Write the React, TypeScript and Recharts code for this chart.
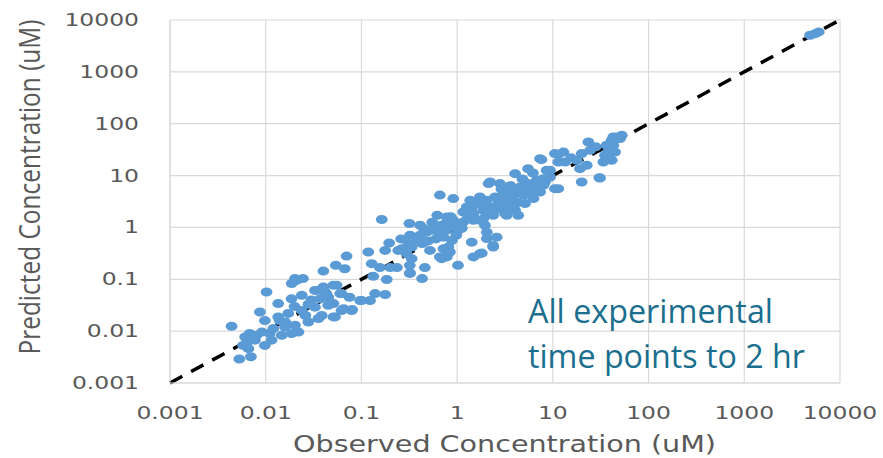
import {
  ScatterChart,
  Scatter,
  XAxis,
  YAxis,
  CartesianGrid,
  ReferenceLine,
} from "recharts";

const obsBelow01: [number, number][] = [
  [0.0044, 0.0124], [0.0053, 0.0029], [0.007, 0.0032], [0.0102, 0.057], [0.0202, 0.103],
  [0.0245, 0.103], [0.0187, 0.083], [0.04, 0.144], [0.054, 0.186], [0.067, 0.16],
  [0.055, 0.077], [0.1, 0.039], [0.0087, 0.0234], [0.0135, 0.034], [0.0186, 0.042],
  [0.0238, 0.049], [0.0327, 0.061], [0.0417, 0.057], [0.062, 0.053], [0.0098, 0.016],
  [0.0135, 0.0188], [0.0172, 0.022], [0.0238, 0.025], [0.0327, 0.029], [0.045, 0.0315],
  [0.062, 0.025], [0.079, 0.025], [0.0091, 0.0096], [0.012, 0.0112], [0.0159, 0.012],
  [0.0202, 0.013], [0.0279, 0.015], [0.0355, 0.0175], [0.053, 0.0188], [0.0147, 0.0083],
  [0.0186, 0.009], [0.022, 0.0096], [0.0061, 0.0077], [0.0071, 0.0083], [0.0058, 0.0053],
  [0.0066, 0.0046], [0.0098, 0.0053], [0.0115, 0.0067], [0.0077, 0.0067], [0.014, 0.016],
  [0.0385, 0.02], [0.051, 0.034], [0.0063, 0.0058], [0.0068, 0.009], [0.008, 0.0083],
  [0.07, 0.28], [0.04, 0.071], [0.051, 0.077], [0.08, 0.026], [0.097, 0.039],
  [0.065, 0.027], [0.034, 0.061], [0.037, 0.042], [0.043, 0.053], [0.06, 0.053],
  [0.021, 0.095], [0.051, 0.0188], [0.011, 0.009], [0.016, 0.015], [0.026, 0.02],
  [0.03, 0.04], [0.045, 0.045], [0.028, 0.033], [0.02, 0.03], [0.075, 0.045],
];

const obs01to1: [number, number][] = [
  [0.163, 1.42], [0.317, 1.19], [0.66, 4.2], [0.91, 3.6], [0.118, 0.336],
  [0.177, 0.36], [0.195, 0.5], [0.128, 0.2], [0.156, 0.168], [0.2, 0.168],
  [0.235, 0.168], [0.133, 0.114], [0.184, 0.099], [0.322, 0.132], [0.43, 0.103],
  [0.46, 0.168], [0.263, 0.39], [0.322, 0.705], [0.31, 0.49], [0.38, 0.56],
  [0.335, 0.25], [0.41, 0.705], [0.48, 0.81], [0.565, 0.88], [0.52, 0.36],
  [0.66, 0.27], [0.72, 0.39], [0.84, 0.336], [0.69, 1.1], [0.78, 1.27],
  [0.91, 1.37], [0.98, 0.705], [0.123, 0.039], [0.139, 0.053], [0.177, 0.051],
  [0.32, 0.186], [0.32, 0.13], [0.335, 0.42], [0.43, 0.49], [0.297, 0.31],
  [0.243, 0.36], [0.72, 0.65], [0.81, 0.42], [0.78, 1.59], [0.84, 1.02],
  [0.69, 0.25], [0.78, 0.27], [0.41, 1.1], [0.55, 1.26], [0.77, 0.88],
  [0.88, 0.56], [0.62, 1.71], [0.6, 0.6], [0.5, 0.55], [0.95, 1.2],
  [0.26, 0.6], [0.45, 0.95], [0.58, 1.05], [0.66, 0.8], [0.86, 1.6],
];

const obs1to10: [number, number][] = [
  [1.02, 0.88], [1.02, 0.186], [1.42, 0.52], [1.81, 0.32], [1.48, 0.27],
  [1.26, 2.48], [1.48, 1.85], [1.88, 2.67], [1.73, 1.37], [2.04, 1.85],
  [1.37, 3.33], [1.73, 3.86], [2.13, 7.0], [2.04, 0.81], [1.07, 0.95],
  [1.12, 0.96], [2.21, 7.5], [2.8, 7.0], [4.03, 10.9], [5.5, 13.6],
  [7.35, 21.2], [9.35, 12.6], [1.16, 1.98], [1.42, 2.31], [2.04, 3.33],
  [2.49, 3.86], [3.04, 4.49], [3.72, 5.2], [4.54, 6.0], [5.5, 7.0],
  [6.78, 8.1], [7.96, 8.7], [9.35, 9.4], [1.16, 1.27], [1.48, 1.37],
  [1.88, 1.48], [2.38, 1.71], [3.16, 1.85], [4.03, 2.14], [5.13, 2.88],
  [6.27, 3.6], [7.35, 4.82], [1.88, 2.14], [2.38, 2.48], [3.04, 2.88],
  [3.86, 3.33], [4.92, 4.16], [6.0, 5.2], [7.35, 6.5], [3.29, 1.71],
  [4.35, 1.71], [2.04, 0.61], [2.59, 0.65], [2.38, 0.42], [1.73, 0.31],
  [2.38, 0.45], [7.6, 20.3], [8.6, 12.6], [7.96, 6.5], [1.3, 1.6],
  [2.2, 2.0], [2.7, 2.3], [3.4, 2.6], [4.3, 3.0], [5.8, 4.2],
  [2.7, 3.3], [3.4, 3.7], [4.2, 4.6], [5.2, 5.6], [6.5, 6.8], [8.3, 7.6],
  [1.6, 2.9], [2.9, 5.5], [4.8, 8.6], [6.2, 11.2], [3.6, 6.4], [1.95, 1.1],
];

const obsAbove10: [number, number][] = [
  [11.4, 25.7], [10.5, 5.6], [46.5, 55.4], [52.5, 59.7], [41.2, 47.9],
  [36.5, 38.4], [39.6, 30.7], [44.7, 28.4], [35.1, 24.6], [33.7, 18.3],
  [41.2, 19.7], [36.5, 26.5], [23.5, 44.4], [24.5, 30.7], [20, 26.5],
  [22.6, 15.8], [19.2, 13.6], [17.8, 19.7], [12.9, 28.4], [10.5, 26.5],
  [13.4, 18.3], [11.4, 18.3], [20, 7.5], [30.6, 9.1], [11.4, 5.6],
  [42.8, 38.4], [42.8, 55.4], [50.4, 51.6], [38, 35.6], [31.1, 9.0],
  [15.5, 22], [28, 36], [4870, 5070], [5500, 5460], [6000, 5900],
];

const decadeTicks = [0.001, 0.01, 0.1, 1, 10, 100, 1000, 10000];

const points = [...obsBelow01, ...obs01to1, ...obs1to10, ...obsAbove10].map(([x, y]) => ({ x, y }));

const TICK_COLOR = "#595959";

function XTick(props: any) {
  const { x, y, payload } = props;
  return (
    <text
      transform={`translate(${x},${y + 36}) scale(1.38,1)`}
      textAnchor="middle"
      fontFamily="DejaVu Sans"
      fontSize={17}
      fill={TICK_COLOR}
    >
      {String(payload.value)}
    </text>
  );
}

function YTick(props: any) {
  const { x, y, payload } = props;
  return (
    <text
      transform={`translate(${x - 31},${y + 6}) scale(1.38,1)`}
      textAnchor="end"
      fontFamily="DejaVu Sans"
      fontSize={17}
      fill={TICK_COLOR}
    >
      {String(payload.value)}
    </text>
  );
}

// Excel-ish oval markers
function Dot(props: any) {
  const { cx, cy } = props;
  if (cx == null || cy == null) return null;
  return <ellipse cx={cx} cy={cy} rx={5.9} ry={4.5} fill="#5B9BD5" />;
}

export default function App() {
  return (
    <div style={{ position: "relative", width: 883, height: 458, background: "#fff" }}>
      <style>{"body{margin:0}"}</style>
      <ScatterChart width={883} height={458} margin={{ top: 20, right: 43, bottom: 0, left: 0 }}>
        <CartesianGrid stroke="#D9D9D9" strokeWidth={1.2} />
        <XAxis
          dataKey="x"
          type="number"
          scale="log"
          domain={[0.001, 10000]}
          ticks={decadeTicks}
          allowDataOverflow
          height={75}
          axisLine={{ stroke: "#D9D9D9" }}
          tickLine={false}
          tickSize={0}
          tickMargin={0}
          tick={<XTick />}
          interval={0}
        />
        <YAxis
          dataKey="y"
          type="number"
          scale="log"
          domain={[0.001, 10000]}
          ticks={decadeTicks}
          allowDataOverflow
          width={170}
          axisLine={{ stroke: "#D9D9D9" }}
          tickLine={false}
          tickSize={0}
          tickMargin={0}
          tick={<YTick />}
          interval={0}
        />
        <ReferenceLine
          segment={[
            { x: 0.001, y: 0.001 },
            { x: 10000, y: 10000 },
          ]}
          stroke="#000"
          strokeWidth={3.5}
          strokeDasharray="14 10"
          ifOverflow="visible"
        />
        <Scatter data={points} shape={<Dot />} isAnimationActive={false} />
      </ScatterChart>
      <svg
        width={883}
        height={458}
        style={{ position: "absolute", left: 0, top: 0, pointerEvents: "none" }}
      >
        <text
          x={504.5}
          y={452}
          textAnchor="middle"
          fontFamily="DejaVu Sans"
          fontSize={23}
          fill={TICK_COLOR}
          textLength={423}
          lengthAdjust="spacingAndGlyphs"
        >
          Observed Concentration (uM)
        </text>
        {/* glyphs taller than wide, like the squeezed original */}
        <text
          transform="translate(40,187) rotate(-90) scale(1,1.28)"
          textAnchor="middle"
          fontFamily="Open Sans"
          fontSize={23}
          fill={TICK_COLOR}
          textLength={335}
          lengthAdjust="spacingAndGlyphs"
        >
          Predicted Concentration (uM)
        </text>
        <text
          x={528}
          y={323}
          fontFamily="Open Sans"
          fontSize={32}
          fill="#1A6E8E"
          textLength={245}
          lengthAdjust="spacingAndGlyphs"
        >
          All experimental
        </text>
        <text
          x={528}
          y={368}
          fontFamily="Open Sans"
          fontSize={32}
          fill="#1A6E8E"
          textLength={277}
          lengthAdjust="spacingAndGlyphs"
        >
          time points to 2 hr
        </text>
      </svg>
    </div>
  );
}
